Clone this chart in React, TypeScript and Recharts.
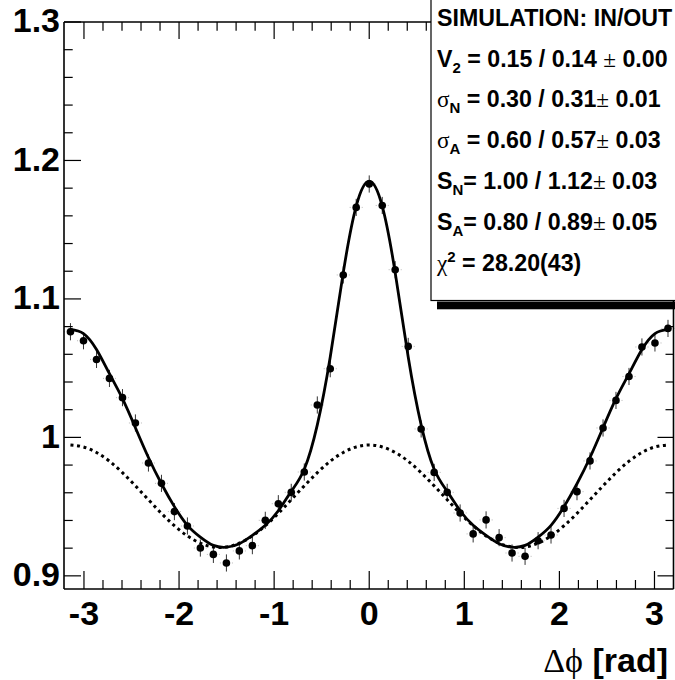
import React from 'react';
import { ComposedChart, Line, Scatter, XAxis, YAxis, ErrorBar } from 'recharts';

// Δφ bin centres (rad)
const dphi = [
  -3.142, -3.005, -2.868, -2.732, -2.595, -2.459, -2.322, -2.185, -2.049, -1.912,
  -1.776, -1.639, -1.502, -1.366, -1.229, -1.093, -0.956, -0.82, -0.683, -0.546,
  -0.41, -0.273, -0.137, 0, 0.137, 0.273, 0.41, 0.546, 0.683, 0.82,
  0.956, 1.093, 1.229, 1.366, 1.502, 1.639, 1.776, 1.912, 2.049, 2.185,
  2.322, 2.459, 2.595, 2.732, 2.868, 3.005, 3.142,
];

// simulated pair yield per bin
const pairYield = [
  1.0763, 1.0698, 1.0563, 1.0426, 1.0287, 1.0104, 0.9815, 0.9668, 0.9464, 0.936,
  0.9201, 0.9155, 0.9093, 0.918, 0.9218, 0.9401, 0.9521, 0.9603, 0.975, 1.0234,
  1.0496, 1.1173, 1.1661, 1.183, 1.1675, 1.1211, 1.0657, 1.0061, 0.9747, 0.9603,
  0.9454, 0.9303, 0.9404, 0.9276, 0.9165, 0.9141, 0.9254, 0.9295, 0.9487, 0.9608,
  0.983, 1.0068, 1.0267, 1.044, 1.0653, 1.0682, 1.0787,
];

// full fit (flow + near-side + away-side peaks)
const fitTotal = [
  1.078, 1.075, 1.0635, 1.046, 1.028, 1.007, 0.9855, 0.9665, 0.95, 0.9365,
  0.928, 0.922, 0.9207, 0.9232, 0.9292, 0.9365, 0.947, 0.961, 0.977, 1.009,
  1.058, 1.119, 1.167, 1.185, 1.167, 1.119, 1.058, 1.009, 0.977, 0.961,
  0.947, 0.9365, 0.9292, 0.9232, 0.9207, 0.922, 0.928, 0.9365, 0.95, 0.9665,
  0.9855, 1.007, 1.028, 1.046, 1.0635, 1.075, 1.078,
];

// flow-only component
const fitFlow = [
  0.9945, 0.9931, 0.9891, 0.9828, 0.9745, 0.965, 0.955, 0.9451, 0.9362, 0.9288,
  0.9236, 0.9208, 0.9208, 0.9236, 0.9288, 0.9362, 0.9451, 0.955, 0.965, 0.9745,
  0.9828, 0.9891, 0.9931, 0.9945, 0.9931, 0.9891, 0.9828, 0.9745, 0.965, 0.955,
  0.9451, 0.9362, 0.9288, 0.9236, 0.9208, 0.9208, 0.9236, 0.9288, 0.9362, 0.9451,
  0.955, 0.965, 0.9745, 0.9828, 0.9891, 0.9931, 0.9945,
];

const yErr = 0.0062;
const xErr = 0.068;

const xMajor = [-3, -2, -1, 0, 1, 2, 3];
const xLabels = ['-3', '-2', '-1', '0', '1', '2', '3'];
const xTicks = [
  -3, -2.8, -2.6, -2.4, -2.2, -2, -1.8, -1.6, -1.4, -1.2, -1, -0.8, -0.6, -0.4, -0.2,
  0, 0.2, 0.4, 0.6, 0.8, 1, 1.2, 1.4, 1.6, 1.8, 2, 2.2, 2.4, 2.6, 2.8, 3,
];
const yMajor = [0.9, 1.0, 1.1, 1.2, 1.3];
const yLabels = ['0.9', '1', '1.1', '1.2', '1.3'];
const yTicks = [
  0.9, 0.92, 0.94, 0.96, 0.98, 1.0, 1.02, 1.04, 1.06, 1.08, 1.1,
  1.12, 1.14, 1.16, 1.18, 1.2, 1.22, 1.24, 1.26, 1.28, 1.3,
];

const rows = dphi.map((x, i) => ({
  x,
  y: pairYield[i],
  fit: fitTotal[i],
  flow: fitFlow[i],
  ey: yErr,
  ex: xErr,
}));

const SANS = "'Liberation Sans', Arial, Helvetica, sans-serif";
const SERIF = "'Liberation Serif', 'Times New Roman', serif";
const W = 675;
const H = 680;

const majorIndex = (list: number[], v: number) => list.findIndex((m) => Math.abs(m - v) < 1e-6);

const BottomTick = (props: any) => {
  const { x, y, payload } = props;
  const idx = majorIndex(xMajor, payload.value);
  const len = idx >= 0 ? 18 : 9;
  return (
    <g>
      <line x1={x} x2={x} y1={y} y2={y - len} stroke="#000" strokeWidth={1.2} />
      {idx >= 0 && (
        <text x={x} y={y + 36} textAnchor="middle" fontSize={34} fontWeight="bold" fontFamily={SANS} fill="#000">
          {xLabels[idx]}
        </text>
      )}
    </g>
  );
};

const TopTick = (props: any) => {
  const { x, y, payload } = props;
  const idx = majorIndex(xMajor, payload.value);
  const len = idx >= 0 ? 17 : 8.7;
  return <line x1={x} x2={x} y1={y} y2={y + len} stroke="#000" strokeWidth={1.2} />;
};

const LeftTick = (props: any) => {
  const { x, y, payload } = props;
  const idx = majorIndex(yMajor, payload.value);
  const len = idx >= 0 ? 17 : 8.7;
  return (
    <g>
      <line x1={x} x2={x + len} y1={y} y2={y} stroke="#000" strokeWidth={1.2} />
      {idx >= 0 && (
        <text x={x - 4} y={y + 10.3} textAnchor="end" fontSize={34} fontWeight="bold" fontFamily={SANS} fill="#000">
          {yLabels[idx]}
        </text>
      )}
    </g>
  );
};

const RightTick = (props: any) => {
  const { x, y, payload } = props;
  const idx = majorIndex(yMajor, payload.value);
  const len = idx >= 0 ? 16 : 8;
  return <line x1={x} x2={x - len} y1={y} y2={y} stroke="#000" strokeWidth={1.2} />;
};

const Marker = (props: any) => <circle cx={props.cx} cy={props.cy} r={3.8} fill="#000" />;

const frame = { stroke: '#000', strokeWidth: 1.6 };

const FS = 23.2;
const SUB = 15;
const lineY = (i: number) => 25.7 + 40.8 * i;

const ParamLegend = () => (
  <svg width={W} height={H} style={{ position: 'absolute', left: 0, top: 0, pointerEvents: 'none' }}>
    <rect x={437} y={301.5} width={250} height={7.8} fill="#000" />
    <rect x={431} y={-4} width={260} height={304.5} fill="#fff" stroke="#000" strokeWidth={1.2} />
    <g fontFamily={SANS} fontWeight="bold" fontSize={FS} fill="#000" style={{ whiteSpace: 'pre' }}>
      <text x={437} y={lineY(0)}>SIMULATION: IN/OUT</text>
      <text x={437} y={lineY(1)}>
        <tspan>V</tspan>
        <tspan fontSize={SUB} dy={6}>2</tspan>
        <tspan dy={-6}> = 0.15 / 0.14  </tspan>
        <tspan fontFamily={SERIF} fontWeight="normal">±</tspan>
        <tspan> 0.00</tspan>
      </text>
      <text x={437} y={lineY(2)}>
        <tspan fontFamily={SERIF} fontWeight="normal">σ</tspan>
        <tspan fontSize={SUB} dy={6}>N</tspan>
        <tspan dy={-6}> = 0.30 / 0.31</tspan>
        <tspan fontFamily={SERIF} fontWeight="normal">±</tspan>
        <tspan> 0.01</tspan>
      </text>
      <text x={437} y={lineY(3)}>
        <tspan fontFamily={SERIF} fontWeight="normal">σ</tspan>
        <tspan fontSize={SUB} dy={6}>A</tspan>
        <tspan dy={-6}> = 0.60 / 0.57</tspan>
        <tspan fontFamily={SERIF} fontWeight="normal">±</tspan>
        <tspan> 0.03</tspan>
      </text>
      <text x={437} y={lineY(4)}>
        <tspan>S</tspan>
        <tspan fontSize={SUB} dy={6}>N</tspan>
        <tspan dy={-6}>= 1.00 / 1.12</tspan>
        <tspan fontFamily={SERIF} fontWeight="normal">±</tspan>
        <tspan> 0.03</tspan>
      </text>
      <text x={437} y={lineY(5)}>
        <tspan>S</tspan>
        <tspan fontSize={SUB} dy={6}>A</tspan>
        <tspan dy={-6}>= 0.80 / 0.89</tspan>
        <tspan fontFamily={SERIF} fontWeight="normal">±</tspan>
        <tspan> 0.05</tspan>
      </text>
      <text x={437} y={lineY(6)}>
        <tspan fontFamily={SERIF} fontWeight="normal">χ</tspan>
        <tspan fontSize={SUB} dy={-9}>2</tspan>
        <tspan dy={9}> = 28.20(43)</tspan>
      </text>
    </g>
    <text x={668} y={672} textAnchor="end" fontSize={34} fill="#000" style={{ whiteSpace: 'pre' }}>
      <tspan fontFamily={SERIF}>Δϕ</tspan>
      <tspan fontFamily={SANS} fontWeight="bold"> [rad]</tspan>
    </text>
  </svg>
);

export default function App() {
  return (
    <div style={{ position: 'absolute', left: 0, top: 0, width: W, height: H, background: '#fff' }}>
      <ComposedChart
        width={W}
        height={H}
        data={rows}
        margin={{ top: 21, right: 0.5, bottom: 90, left: 63 }}
      >
        <XAxis
          xAxisId="bottom"
          dataKey="x"
          type="number"
          domain={[-3.21, 3.2]}
          allowDataOverflow
          ticks={xTicks}
          interval={0}
          height={1}
          tickSize={0}
          tickMargin={0}
          tickLine={false}
          axisLine={frame}
          tick={<BottomTick />}
        />
        <XAxis
          xAxisId="top"
          orientation="top"
          dataKey="x"
          type="number"
          domain={[-3.21, 3.2]}
          allowDataOverflow
          ticks={xTicks}
          interval={0}
          height={1}
          tickSize={0}
          tickMargin={0}
          tickLine={false}
          axisLine={frame}
          tick={<TopTick />}
        />
        <YAxis
          yAxisId="left"
          type="number"
          domain={[0.8905, 1.3]}
          allowDataOverflow
          ticks={yTicks}
          interval={0}
          width={1}
          tickSize={0}
          tickMargin={0}
          tickLine={false}
          axisLine={frame}
          tick={<LeftTick />}
        />
        <YAxis
          yAxisId="right"
          orientation="right"
          type="number"
          domain={[0.8905, 1.3]}
          allowDataOverflow
          ticks={yTicks}
          interval={0}
          width={1}
          tickSize={0}
          tickMargin={0}
          tickLine={false}
          axisLine={frame}
          tick={<RightTick />}
        />
        <Line
          xAxisId="top"
          yAxisId="right"
          dataKey="flow"
          stroke="none"
          dot={false}
          activeDot={false}
          isAnimationActive={false}
        />
        <Scatter
          xAxisId="bottom"
          yAxisId="left"
          dataKey="y"
          shape={<Marker />}
          isAnimationActive={false}
        >
          <ErrorBar dataKey="ey" direction="y" width={0} stroke="#333" strokeWidth={1} isAnimationActive={false} />
          <ErrorBar dataKey="ex" direction="x" width={0} stroke="#aaa" strokeWidth={0.8} strokeDasharray="1 3" isAnimationActive={false} />
        </Scatter>
        <Line
          xAxisId="bottom"
          yAxisId="left"
          type="natural"
          dataKey="flow"
          stroke="#000"
          strokeWidth={3}
          strokeDasharray="3 3.6"
          dot={false}
          activeDot={false}
          isAnimationActive={false}
        />
        <Line
          xAxisId="bottom"
          yAxisId="left"
          type="natural"
          dataKey="fit"
          stroke="#000"
          strokeWidth={2.8}
          dot={false}
          activeDot={false}
          isAnimationActive={false}
        />
      </ComposedChart>
      <ParamLegend />
    </div>
  );
}
